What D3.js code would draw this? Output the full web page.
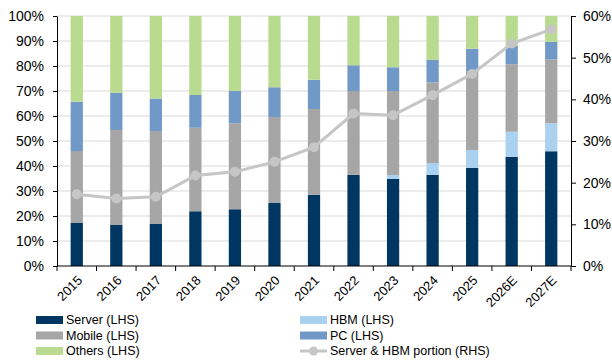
<!DOCTYPE html>
<html>
<head>
<meta charset="utf-8">
<script src="https://cdn.jsdelivr.net/npm/d3@7"></script>
<style>
  body { margin: 0; background: #fff; }
  text { font-family: Arial, "Liberation Sans", sans-serif; }
</style>
</head>
<body>
<script>
var years = ["2015", "2016", "2017", "2018", "2019", "2020", "2021", "2022", "2023", "2024", "2025", "2026E", "2027E"];
var server = [17.2, 16.4, 16.8, 21.9, 22.7, 25.2, 28.5, 36.5, 34.9, 36.5, 39.3, 43.7, 45.9];
var hbm    = [0, 0, 0, 0, 0, 0, 0, 0, 1.5, 4.7, 7.1, 10.0, 11.2];
var mobile = [28.8, 38.0, 37.2, 33.4, 34.4, 34.4, 34.3, 33.5, 33.6, 32.3, 31.6, 27.0, 25.6];
var pc     = [19.7, 14.9, 13.0, 13.1, 13.0, 11.9, 11.7, 10.3, 9.5, 9.0, 8.9, 7.4, 7.0];
var others = [34.3, 30.7, 33.0, 31.6, 29.9, 28.5, 25.5, 19.7, 20.5, 17.5, 13.1, 11.9, 10.3];
var portion = [17.2, 16.2, 16.6, 21.7, 22.6, 25.0, 28.5, 36.6, 36.2, 41.0, 46.1, 53.4, 56.8];

var leftTicks = [0, 10, 20, 30, 40, 50, 60, 70, 80, 90, 100];
var rightTicks = [0, 10, 20, 30, 40, 50, 60];

var series = [
  { key: "server", name: "Server (LHS)", values: server, color: "#003662" },
  { key: "hbm", name: "HBM (LHS)", values: hbm, color: "#aad2f0" },
  { key: "mobile", name: "Mobile (LHS)", values: mobile, color: "#a6a6a6" },
  { key: "pc", name: "PC (LHS)", values: pc, color: "#7199c8" },
  { key: "others", name: "Others (LHS)", values: others, color: "#b9db8f" }
];
var lineColor = "#c6c6c6";

var margin = { top: 16, right: 41, bottom: 96, left: 57 },
    width = 612 - margin.left - margin.right,
    height = 362 - margin.top - margin.bottom;

var svg = d3.select("body")
    .append("svg")
    .attr("width", 612)
    .attr("height", 362);
var g = svg.append("g")
    .attr("transform", "translate(" + margin.left + "," + margin.top + ")");

var x = d3.scaleBand().domain(years).range([0, width]).paddingInner(0.69).paddingOuter(0.345);
var xb = d3.scaleBand().domain(years).range([0, width]);
var y = d3.scaleLinear().domain([0, 100]).range([height, 0]);
var y2 = d3.scaleLinear().domain([0, 60]).range([height, 0]);

// gridlines
g.selectAll(".grid")
    .data(leftTicks.slice(1))
    .enter()
    .append("line")
    .attr("x1", 0).attr("x2", width)
    .attr("y1", function (d) { return y(d); })
    .attr("y2", function (d) { return y(d); })
    .attr("stroke", "#d9d9d9")
    .attr("stroke-width", 1);

// stacked bars
var table = years.map(function (yr, i) {
    var row = { year: yr };
    series.forEach(function (s) { row[s.key] = s.values[i]; });
    return row;
});
var stack = d3.stack().keys(series.map(function (s) { return s.key; }));
var layers = stack(table);

g.selectAll(".layer")
    .data(layers)
    .enter()
    .append("g")
    .attr("fill", function (d, i) { return series[i].color; })
    .selectAll("rect")
    .data(function (d) { return d; })
    .enter()
    .append("rect")
    .attr("x", function (d) { return x(d.data.year); })
    .attr("y", function (d) { return y(d[1]); })
    .attr("width", x.bandwidth())
    .attr("height", function (d) { return y(d[0]) - y(d[1]); });

// axes
var axL = g.append("g")
    .call(d3.axisLeft(y).tickValues(leftTicks).tickFormat(function (d) { return d + "%"; }).tickSize(4).tickSizeOuter(0));
var axR = g.append("g")
    .attr("transform", "translate(" + width + ",0)")
    .call(d3.axisRight(y2).tickValues(rightTicks).tickFormat(function (d) { return d + "%"; }).tickSize(5).tickSizeOuter(0));
[axL, axR].forEach(function (a) {
    a.selectAll("text").style("font-size", "14px").attr("fill", "#000");
    a.selectAll("line, path").attr("stroke", "#000");
});
axL.selectAll("text").attr("x", -13);
axR.selectAll("text").attr("x", 12);

// x axis with ticks between categories
var axB = g.append("g").attr("transform", "translate(0," + height + ")");
axB.append("line").attr("x1", 0).attr("x2", width).attr("stroke", "#000");
axB.selectAll(".tk")
    .data(years.concat(["end"]))
    .enter()
    .append("line")
    .attr("x1", function (d, i) { return i * xb.step(); })
    .attr("x2", function (d, i) { return i * xb.step(); })
    .attr("y1", 0).attr("y2", 5)
    .attr("stroke", "#000");
axB.selectAll(".lbl")
    .data(years)
    .enter()
    .append("text")
    .attr("transform", function (d) {
        return "translate(" + (xb(d) + xb.bandwidth() / 2 + 3) + ",12)rotate(-45)";
    })
    .attr("text-anchor", "end")
    .attr("dy", "0.35em")
    .style("font-size", "13px")
    .text(function (d) { return d; });

// portion line (RHS)
var line = d3.line()
    .x(function (d, i) { return x(years[i]) + x.bandwidth() / 2; })
    .y(function (d) { return y2(d); });
g.append("path")
    .datum(portion)
    .attr("fill", "none")
    .attr("stroke", lineColor)
    .attr("stroke-width", 3)
    .attr("d", line);
g.selectAll(".pt")
    .data(portion)
    .enter()
    .append("circle")
    .attr("cx", function (d, i) { return x(years[i]) + x.bandwidth() / 2; })
    .attr("cy", function (d) { return y2(d); })
    .attr("r", 5)
    .attr("fill", lineColor);

// legend
var legendItems = [
    { name: "Server (LHS)", color: series[0].color, col: 0, row: 0 },
    { name: "Mobile (LHS)", color: series[2].color, col: 0, row: 1 },
    { name: "Others (LHS)", color: series[4].color, col: 0, row: 2 },
    { name: "HBM (LHS)", color: series[1].color, col: 1, row: 0 },
    { name: "PC (LHS)", color: series[3].color, col: 1, row: 1 },
    { name: "Server & HBM portion (RHS)", color: lineColor, col: 1, row: 2, line: true }
];
var lg = svg.append("g");
var item = lg.selectAll(".item")
    .data(legendItems)
    .enter()
    .append("g")
    .attr("transform", function (d) { return "translate(" + (d.col ? 300 : 36) + "," + (320 + d.row * 15.5) + ")"; });
item.filter(function (d) { return !d.line; })
    .append("rect")
    .attr("x", 0).attr("y", -4)
    .attr("width", 27).attr("height", 8)
    .attr("fill", function (d) { return d.color; });
item.filter(function (d) { return d.line; })
    .append("line")
    .attr("x1", 0).attr("x2", 27)
    .attr("stroke", lineColor).attr("stroke-width", 3);
item.filter(function (d) { return d.line; })
    .append("circle")
    .attr("cx", 13.5).attr("r", 4.5)
    .attr("fill", lineColor);
item.append("text")
    .attr("x", 30)
    .attr("dy", "0.35em")
    .style("font-size", "12.5px")
    .text(function (d) { return d.name; });
</script>
</body>
</html>
